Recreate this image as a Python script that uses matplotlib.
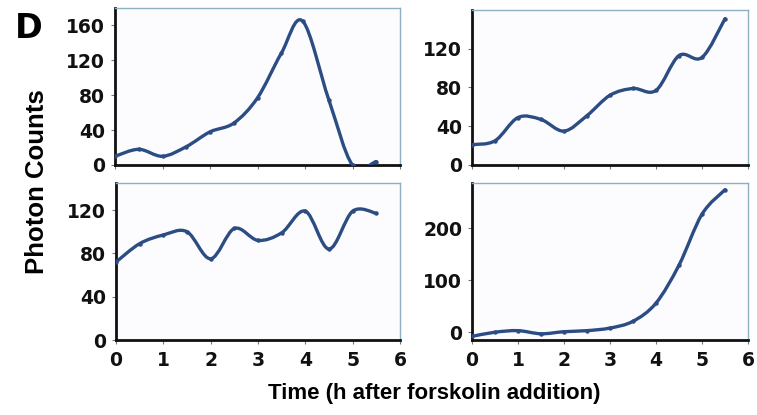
import matplotlib
matplotlib.use("Agg")
import matplotlib.pyplot as plt
import numpy as np
from matplotlib.path import Path
from matplotlib.patches import PathPatch

# ── Data (0.5 h sampling) ────────────────────────────────────────────────────
hours = [0, 0.5, 1.0, 1.5, 2.0, 2.5, 3.0, 3.5, 4.0, 4.5, 5.0, 5.5]
hours_tl = [0, 0.5, 1.0, 1.5, 2.0, 2.5, 3.0, 3.5, 3.95, 4.5, 5.0, 5.5]

counts_tl = [10, 18, 10, 21, 38, 48, 77, 128, 165, 75, 0, 4]
counts_tr = [21, 25, 49, 47, 35, 51, 72, 79, 77, 113, 111, 151]
counts_bl = [72, 89, 97, 100, 75, 103, 92, 99, 119, 84, 119, 117]
counts_br = [-8, 0, 3, -3, 1, 3, 8, 21, 56, 129, 227, 274]

yticks_tl = [0, 40, 80, 120, 160]
yticks_tr = [0, 40, 80, 120]
yticks_bl = [0, 40, 80, 120]
yticks_br = [0, 100, 200]
xticks = [0, 1, 2, 3, 4, 5, 6]

LINE = "#2C4C84"
FRAME = "#8DB1C1"


def smooth_path(x, y):
    # Excel-style smoothed line: Catmull-Rom converted to cubic Bezier
    p = np.column_stack([x, y]).astype(float)
    n = len(p)
    verts = [p[0]]
    codes = [Path.MOVETO]
    for i in range(n - 1):
        p0 = p[i - 1] if i > 0 else p[i]
        p1, p2 = p[i], p[i + 1]
        p3 = p[i + 2] if i + 2 < n else p[i + 1]
        c1 = p1 + (p2 - p0) / 6.0
        c2 = p2 - (p3 - p1) / 6.0
        verts += [c1, c2, p2]
        codes += [Path.CURVE4] * 3
    return Path(verts, codes)


def panel(rect, x, y, ylim, yticks, show_x):
    ax = fig.add_axes(rect)
    ax.set_facecolor("#FCFCFE")
    ax.add_patch(PathPatch(smooth_path(x, y), fc="none", ec=LINE, lw=2.4,
                           capstyle="round", joinstyle="round", zorder=3))
    ax.plot(x, y, "o", ms=2.2, color=LINE, zorder=4)
    ax.set_xlim(0, 6)
    ax.set_ylim(*ylim)
    ax.set_yticks(yticks)
    ax.set_xticks(xticks)
    for s in ("left", "bottom"):
        ax.spines[s].set_color("#111111")
        ax.spines[s].set_linewidth(2.0)
    for s in ("top", "right"):
        ax.spines[s].set_color(FRAME)
        ax.spines[s].set_linewidth(1.0)
    ax.tick_params(axis="y", length=3, width=0.8, color="#777777", pad=4,
                   labelsize=13.5)
    ax.tick_params(axis="x", length=3, width=0.8, color="#777777", pad=5,
                   labelsize=13.5, labelbottom=show_x)
    for lab in ax.get_xticklabels() + ax.get_yticklabels():
        lab.set_fontweight("bold")
        lab.set_family("DejaVu Sans")
        lab.set_color("#111111")
    return ax


fig = plt.figure(figsize=(7.57, 4.15), dpi=100)
fig.patch.set_facecolor("white")

W, H = 757.0, 415.0


def r(l, t, rgt, b):
    return [l / W, (H - b) / H, (rgt - l) / W, (b - t) / H]


panel(r(115, 8, 400, 165), hours_tl, counts_tl, (0, 180), yticks_tl, False)
panel(r(472, 10, 748, 165), hours, counts_tr, (0, 160), yticks_tr, False)
panel(r(116, 183, 400, 340), hours, counts_bl, (0, 145), yticks_bl, True)
panel(r(472, 183, 748, 340), hours, counts_br, (-15, 287), yticks_br, True)

fig.text(29 / W, 1 - 29 / H, "D", fontsize=24, fontweight="bold",
         family="DejaVu Sans", ha="center", va="center")
fig.text(37.5 / W, 1 - 182 / H, "Photon Counts", fontsize=18.5,
         fontweight="bold", family="Liberation Sans", rotation=90,
         ha="center", va="center")
fig.text(434 / W, 1 - 393 / H, "Time (h after forskolin addition)",
         fontsize=16, fontweight="bold", family="Liberation Sans",
         ha="center", va="center")

fig.savefig("out.png", dpi=100, facecolor="white")
